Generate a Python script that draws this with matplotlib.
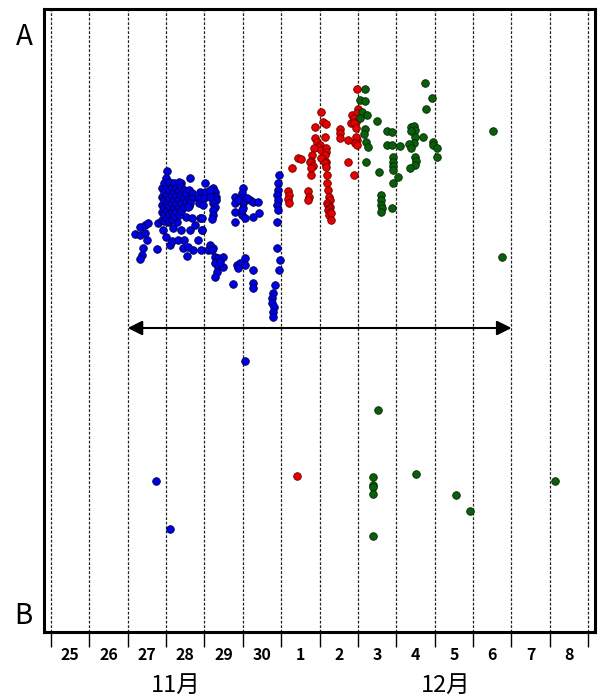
import numpy as np
import matplotlib.pyplot as plt

plt.rcParams['font.family'] = ['Noto Sans CJK JP', 'DejaVu Sans']

# x: days since 25 Nov 00:00, y: score on a 0 (B) .. 100 (A) scale
day_labels = ['25', '26', '27', '28', '29', '30', '1', '2', '3', '4', '5', '6', '7', '8']
month_labels = ['11月', '12月']
month_pos = [3.25, 10.3]

# group 1 (blue)
blue_x = [2.19, 2.32, 2.32, 2.45, 2.53, 2.45, 2.50, 2.40, 2.37, 2.32, 2.76, 2.79, 2.92, 3.00,
          3.10, 3.15, 3.05, 3.18, 3.28, 3.39, 3.31, 3.47, 3.44, 3.55, 3.62, 3.52, 3.68, 3.75,
          3.88, 3.83, 3.70, 3.57, 3.91, 4.09, 3.94,
          3.02, 3.00, 3.62, 3.13, 3.39,
          2.89, 2.89, 2.89, 2.89, 2.89,
          2.95, 2.95, 2.95, 2.95, 2.95, 2.95,
          3.02, 3.02, 3.02, 3.02, 3.02,
          3.08, 3.08, 3.08, 3.08, 3.08, 3.08,
          3.15, 3.15, 3.15, 3.15, 3.15,
          3.21, 3.21, 3.21, 3.21, 3.21,
          3.27, 3.27, 3.27, 3.27,
          3.33, 3.33, 3.33, 3.33, 3.33,
          3.40, 3.40, 3.40, 3.40,
          3.46, 3.46, 3.46,
          3.53, 3.53,
          3.60, 3.60, 3.60,
          3.67, 3.67, 3.62, 3.57, 3.88, 3.83, 3.86,
          4.01, 4.01, 3.99, 3.96, 3.94, 3.94,
          4.22, 4.28, 4.20, 4.30, 4.30, 4.22, 4.28, 4.22, 4.22, 4.20, 4.14, 4.14,
          4.14, 4.22, 4.28, 4.35, 4.48, 4.28, 4.35, 4.48, 4.33, 4.28, 4.20, 4.41,
          5.01, 4.98, 4.80, 4.98, 4.80, 5.01, 5.19, 5.27, 5.40, 5.01, 4.80, 4.98, 5.06, 5.27,
          5.42, 4.80, 4.98, 5.11, 4.87,
          4.85, 4.93, 5.06, 5.06, 4.87, 5.27, 4.74, 5.27, 5.27,
          5.06,
          5.94, 5.92, 5.92, 5.89, 5.92, 5.89, 5.92, 5.89, 5.89, 5.97, 5.94, 5.84, 5.79, 5.76,
          5.76, 5.81, 5.79, 5.79,
          2.74, 3.10]
blue_y = [63.9, 65.0, 63.7, 65.3, 65.6, 64.0, 62.9, 61.6, 60.5, 59.9, 61.5, 65.6, 64.5, 63.4,
          62.1, 62.8, 65.8, 64.8, 65.8, 64.5, 62.9, 62.9, 61.6, 60.3, 64.5, 66.6, 66.4, 65.3,
          66.4, 62.9, 61.3, 61.8, 61.3, 61.3, 64.5,
          74.0, 72.9, 72.9, 72.1, 72.1,
          71.2, 69.8, 68.6, 67.4, 66.2,
          72.0, 70.6, 69.4, 68.0, 66.9, 65.9,
          71.6, 70.2, 69.0, 67.7, 66.5,
          72.3, 71.0, 69.6, 68.4, 67.1, 66.0,
          71.4, 70.1, 68.8, 67.5, 66.3,
          72.0, 70.7, 69.3, 68.1, 66.8,
          71.3, 70.0, 68.7, 67.4,
          72.2, 70.9, 69.5, 68.2, 66.9,
          71.5, 70.2, 68.9, 67.6,
          71.0, 69.6, 68.3,
          70.4, 69.0,
          70.9, 69.5, 68.4,
          70.5, 69.6, 68.9, 68.2, 70.6, 69.7, 68.9,
          72.1, 70.6, 69.7, 68.5, 66.4, 64.5,
          71.3, 70.6, 70.1, 69.8, 69.3, 68.9, 68.2, 67.7, 66.9, 66.3, 70.9, 69.8,
          62.1, 61.6, 60.2, 60.0, 60.2, 59.2, 58.6, 58.6, 57.8, 57.0, 61.3, 59.4,
          71.3, 70.5, 69.8, 69.7, 68.9, 68.9, 69.3, 69.0, 69.0, 68.1, 67.4, 66.9, 66.4, 66.6,
          67.2, 65.8, 67.7, 69.7, 69.3,
          58.9, 59.2, 60.0, 58.9, 58.4, 58.1, 55.9, 56.0, 55.2,
          43.5,
          73.3, 72.1, 70.9, 70.1, 69.3, 68.5, 67.7, 65.8, 61.6, 59.7, 58.1, 55.7, 54.4, 53.6,
          52.8, 52.2, 51.4, 50.6,
          24.2, 16.5]

# group 2 (red)
red_x = [7.98, 8.00, 7.85, 7.98, 7.90, 7.95, 7.82, 7.90, 7.95, 7.53, 7.53, 7.53, 7.92, 7.98,
         7.95, 7.92, 7.98, 7.74, 7.74, 7.90,
         7.04, 7.09, 7.17, 6.88, 7.14, 6.88, 6.93, 7.01, 6.96, 6.86, 7.04, 7.17, 7.17, 7.14,
         7.04, 7.17, 7.14, 7.17, 7.20, 7.20, 7.22, 7.25, 7.27, 7.20, 7.22, 7.27, 7.25, 7.22,
         7.27, 7.25, 7.30, 7.30,
         6.80, 6.78, 6.75, 6.83, 6.78, 6.44, 6.52, 6.28, 6.78,
         6.18, 6.20, 6.18, 6.20, 6.70, 6.73, 6.70,
         6.41]
red_y = [87.2, 83.9, 83.0, 83.3, 82.5, 81.9, 81.7, 81.7, 80.9, 80.7, 80.1, 79.3, 78.6, 79.0,
         79.4, 78.5, 78.2, 79.0, 75.4, 73.3,
         83.5, 81.9, 81.5, 81.1, 79.4, 79.3, 78.6, 78.2, 77.8, 77.7, 77.4, 77.7, 77.0, 76.6,
         76.1, 75.4, 75.3, 74.6, 73.3, 72.1, 70.9, 69.8, 69.3, 68.9, 68.5, 68.2, 68.1, 67.7,
         67.4, 66.9, 67.2, 66.1,
         76.6, 75.6, 75.4, 74.8, 74.5, 76.1, 75.9, 74.5, 73.3,
         70.8, 70.1, 69.5, 68.9, 70.8, 69.8, 69.3,
         25.0]

# group 3 (green)
green_x = [8.19, 8.06, 8.19, 8.10, 8.24, 8.06, 8.50, 8.19, 8.16, 8.21, 8.26, 8.21,
           8.76, 8.88, 8.76, 8.88, 9.10, 8.92, 8.92, 8.92, 8.92, 9.05, 8.92, 8.55,
           8.60, 8.60, 8.60, 8.63, 8.60, 8.88,
           9.75, 9.93, 9.78, 9.38, 9.46, 9.49, 9.38, 9.70, 9.49, 9.46, 9.33, 9.38,
           9.49, 9.52, 9.49, 9.36, 9.96, 9.96, 10.06, 10.06,
           11.52, 11.76,
           8.52, 8.39, 8.39, 8.39, 8.39, 9.52, 10.56, 10.92, 8.39, 13.14]
green_y = [87.2, 85.4, 85.2, 83.5, 83.0, 82.5, 82.0, 80.7, 79.9, 78.6, 77.8, 75.4,
           80.4, 80.3, 78.2, 78.2, 78.0, 76.2, 75.4, 74.8, 74.2, 73.0, 72.1, 73.8,
           70.1, 69.3, 68.5, 68.1, 67.4, 68.1,
           88.1, 85.7, 83.9, 81.1, 81.2, 80.6, 80.4, 79.4, 79.4, 78.5, 78.3, 77.7,
           76.2, 75.6, 75.0, 74.5, 78.6, 78.2, 77.7, 76.2,
           80.4, 60.2,
           35.6, 24.9, 23.6, 23.3, 22.1, 25.4, 22.0, 19.4, 15.4, 24.2]

arrow_start, arrow_end, arrow_level = 2, 12, 48.8

fig = plt.figure(figsize=(6.03, 6.95), dpi=100)
ax = fig.add_axes([0.073, 0.0906, 0.914, 0.8964])

n_days = len(day_labels)
for d in range(n_days + 1):
    ax.axvline(d, color='#222222', lw=0.9, linestyle=(0, (2.2, 1.4)), zorder=1)

ax.scatter(blue_x, blue_y, s=30, c='#0000e6', edgecolors='#00004a', linewidths=0.6, zorder=3)
ax.scatter(red_x, red_y, s=30, c='#e60000', edgecolors='#6a0000', linewidths=0.6, zorder=3)
ax.scatter(green_x, green_y, s=30, c='#0b5e0b', edgecolors='#002a00', linewidths=0.6, zorder=3)

ax.annotate('', xy=(arrow_end, arrow_level), xytext=(arrow_start, arrow_level),
            arrowprops=dict(arrowstyle='<|-|>', color='black', lw=1.5,
                            mutation_scale=22, shrinkA=0, shrinkB=0), zorder=4)

ax.set_xlim(-0.18, n_days + 0.18)
ax.set_ylim(0, 100)

ax.set_xticks(np.arange(n_days + 1))
ax.set_xticklabels([])
ax.set_xticks(np.arange(n_days) + 0.5, minor=True)
ax.set_xticklabels(day_labels, minor=True, fontsize=11.5, fontweight='bold')
ax.tick_params(axis='x', which='major', direction='out', length=11, width=1.0)
ax.tick_params(axis='x', which='minor', length=0, pad=11)

ax.set_yticks([3.2, 96.1])
ax.set_yticklabels(['B', 'A'], fontsize=20)
ax.tick_params(axis='y', length=0, pad=8)

for spine in ax.spines.values():
    spine.set_linewidth(2.2)

for pos, lab in zip(month_pos, month_labels):
    ax.text(pos, -0.085, lab, transform=ax.get_xaxis_transform(),
            ha='center', va='center', fontsize=17)

fig.savefig('out.png', dpi=100)
